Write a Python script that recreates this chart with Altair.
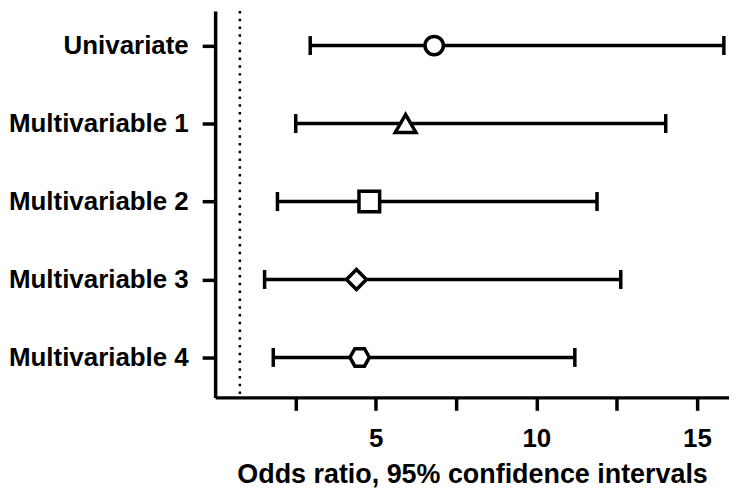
import altair as alt
import pandas as pd

categories = ["Univariate", "Multivariable 1", "Multivariable 2", "Multivariable 3", "Multivariable 4"]
odds_ratio = [6.82, 5.93, 4.80, 4.40, 4.50]
ci_lower = [2.96, 2.51, 1.94, 1.54, 1.81]
ci_upper = [15.84, 14.03, 11.89, 12.63, 11.20]
hexagon = "M -1 0 L -0.5 -0.9 L 0.5 -0.9 L 1 0 L 0.5 0.9 L -0.5 0.9 Z"
shapes = ["circle", "triangle-up", "square", "diamond", hexagon]
shape_sizes = [340, 430, 430, 400, 380]
ref_line = [0.77]
x_ticks = [2.5, 5, 7.5, 10, 12.5, 15]

df = pd.DataFrame({
    "model": categories,
    "or": odds_ratio,
    "lo": ci_lower,
    "hi": ci_upper,
    "sz": shape_sizes,
})

FONT = "Liberation Sans"
LW = 3.5

x_scale = alt.Scale(domain=[0, 16], nice=False, zero=False)
y_enc = alt.Y(
    "model:N",
    sort=categories,
    scale=alt.Scale(type="point", padding=0.478, align=0.464),
    axis=alt.Axis(
        title=None,
        labelFont=FONT,
        labelFontSize=26,
        labelFontWeight="bold",
        labelColor="black",
        labelPadding=14,
        labelLimit=400,
        tickSize=13,
        tickWidth=LW,
        tickColor="black",
        domainWidth=LW,
        domainColor="black",
        grid=False,
    ),
)
x_axis = alt.Axis(
    title="Odds ratio, 95% confidence intervals",
    titleFont=FONT,
    titleFontSize=27,
    titleFontWeight="bold",
    titleColor="black",
    titlePadding=10,
    titleLimit=700,
    values=x_ticks,
    labelExpr="datum.value % 5 == 0 ? datum.label : ''",
    labelFont=FONT,
    labelFontSize=26,
    labelFontWeight="bold",
    labelColor="black",
    labelPadding=15,
    tickSize=13,
    tickWidth=LW,
    tickColor="black",
    domainWidth=LW,
    domainColor="black",
    grid=False,
)

base = alt.Chart(df)

ref = alt.Chart(pd.DataFrame({"ref": ref_line})).mark_rule(
    color="black", strokeWidth=2.5, strokeDash=[2.5, 5.3]
).encode(x=alt.X("ref:Q", scale=x_scale, axis=x_axis))

bars = base.mark_rule(color="black", strokeWidth=LW).encode(
    x=alt.X("lo:Q", scale=x_scale, axis=x_axis),
    x2="hi:Q",
    y=y_enc,
)

cap_lo = base.mark_tick(color="black", thickness=LW, size=19, orient="vertical", opacity=1).encode(
    x=alt.X("lo:Q", scale=x_scale), y=y_enc
)
cap_hi = base.mark_tick(color="black", thickness=LW, size=19, orient="vertical", opacity=1).encode(
    x=alt.X("hi:Q", scale=x_scale), y=y_enc
)

points = base.mark_point(filled=True, fill="white", stroke="black", strokeWidth=LW, opacity=1).encode(
    x=alt.X("or:Q", scale=x_scale),
    y=y_enc,
    shape=alt.Shape("model:N", scale=alt.Scale(domain=categories, range=shapes), legend=None),
    size=alt.Size("sz:Q", scale=None, legend=None),
)

chart = alt.layer(ref, bars, cap_lo, cap_hi, points).properties(
    width=516,
    height=388,
    padding={"left": 0, "top": 0, "right": 0, "bottom": 0},
    background="white",
).configure_view(stroke=None)

chart.save("out.html", embed_options={"renderer": "svg", "actions": False})
